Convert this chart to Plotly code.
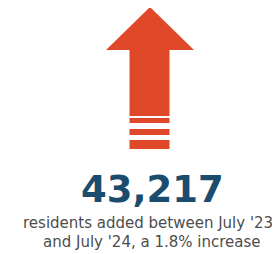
import plotly.graph_objects as go

# Data
value = [43217]
caption_lines = ["residents added between July '23", "and July '24, a 1.8% increase"]
pct_change = [1.8]

ARROW = "#E0482A"
NUM = "#1B4C6D"
GRAY = "#4D4D4D"

# the page body has an 8px margin, so the figure covers window pixels 8..280 x 8..254
OFF = 8
W, H = 280, 254

fig = go.Figure()

# arrow icon (head + shaft + stripes), in window-pixel coordinates
head = "M 150 7 L 194 50 L 106 50 Z"
shaft = "M 129.5 49 L 169.5 49 L 169.5 116 L 129.5 116 Z"
shapes = [
    dict(type="path", path=head, fillcolor=ARROW, line=dict(width=0)),
    dict(type="path", path=shaft, fillcolor=ARROW, line=dict(width=0)),
]
for y0, y1 in [(118, 123), (129, 135), (140, 149)]:
    shapes.append(dict(type="rect", x0=129.5, x1=169.5, y0=y0, y1=y1,
                       fillcolor=ARROW, line=dict(width=0)))
for s in shapes:
    s.update(xref="x", yref="y", layer="above")

annotations = [
    dict(x=152, y=189.5, text=f"<b>{value[0]:,}</b>", showarrow=False,
         font=dict(family="DejaVu Sans", size=37, color=NUM),
         xanchor="center", yanchor="middle"),
    dict(x=148, y=223, text=caption_lines[0], showarrow=False,
         font=dict(family="DejaVu Sans", size=15, color=GRAY),
         xanchor="center", yanchor="middle"),
    dict(x=151.5, y=242, text=caption_lines[1], showarrow=False,
         font=dict(family="DejaVu Sans", size=15, color=GRAY),
         xanchor="center", yanchor="middle"),
]

fig.update_layout(
    width=W - OFF, height=H - OFF,
    margin=dict(l=0, r=0, t=0, b=0),
    paper_bgcolor="white", plot_bgcolor="white",
    xaxis=dict(range=[OFF, W], visible=False, fixedrange=True),
    yaxis=dict(range=[H, OFF], visible=False, fixedrange=True),
    shapes=shapes, annotations=annotations, showlegend=False,
)

fig.write_html("out.html", config=dict(displayModeBar=False))
